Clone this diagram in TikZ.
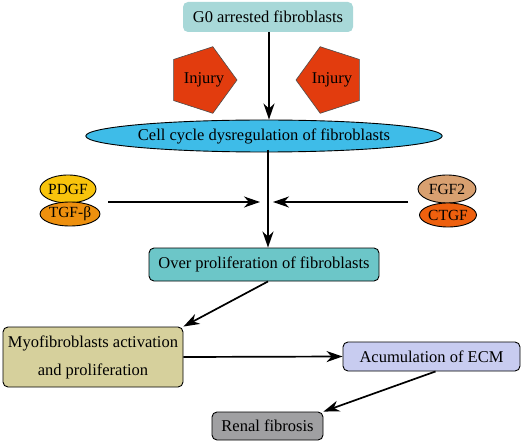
\documentclass[tikz,border=0pt]{standalone}
\usepackage{fontspec}
\setmainfont{Liberation Serif}
\usetikzlibrary{shapes.geometric,arrows.meta}
\definecolor{gzero}{HTML}{A8D8D8}
\definecolor{injury}{HTML}{E23C0E}
\definecolor{cellc}{HTML}{3EBCE8}
\definecolor{pdgfc}{HTML}{F8C40C}
\definecolor{tgfc}{HTML}{EE900E}
\definecolor{fgfc}{HTML}{D8A070}
\definecolor{ctgfc}{HTML}{EE600E}
\definecolor{overc}{HTML}{6CC6C8}
\definecolor{myoc}{HTML}{D6D09C}
\definecolor{acumc}{HTML}{C8CCF0}
\definecolor{renalc}{HTML}{A0A0A2}
\tikzset{
  txt/.style={font=\fontsize{16.5}{19}\selectfont, text=black},
  rbox/.style={txt, draw=black, line width=0.9pt, rounded corners=5pt, inner sep=0pt},
  pentline/.style={draw=black!70, line width=0.6pt, fill=injury},
  ell/.style={ellipse, draw=black, line width=0.9pt, inner sep=0pt, font=\fontsize{15.5}{18}\selectfont},
  arr/.style={line width=1.7pt, -{Stealth[length=16pt,width=11pt,inset=5pt]}},
}
\begin{document}
\begin{tikzpicture}[x=1pt,y=-1pt]
\useasboundingbox (0,0) rectangle (526,443);
\node[txt, fill=gzero, rounded corners=5pt, minimum width=170pt, minimum height=30pt] (g0) at (268,17) {G0 arrested fibroblasts};
\path[pentline] (202,80) +(0:35) -- +(72:35) -- +(144:35) -- +(216:35) -- +(288:35) -- cycle;
\path[pentline] (331,80) +(180:35) -- +(252:35) -- +(324:35) -- +(36:35) -- +(108:35) -- cycle;
\node[txt] (injl) at (204,80) {Injury};
\node[txt] (injr) at (332,80) {Injury};
\node[ell, txt, fill=cellc, minimum width=282pt, minimum height=32pt] (cell) at (264,136) {Cell cycle dysregulation of fibroblasts};
\node[ell, fill=pdgfc, minimum width=54pt, minimum height=28pt] (pdgf) at (68,189) {PDGF};
\node[ell, fill=tgfc, minimum width=54pt, minimum height=24pt] (tgf) at (70,214) {TGF-β};
\node[ell, fill=fgfc, minimum width=58pt, minimum height=28pt] (fgf) at (447,189) {FGF2};
\node[ell, fill=ctgfc, minimum width=57pt, minimum height=24pt] (ctgf) at (448,215) {CTGF};
\node[rbox, fill=overc, minimum width=230pt, minimum height=33pt] (over) at (264,264.5) {Over proliferation of fibroblasts};
\node[rbox, fill=myoc, minimum width=180pt, minimum height=60pt, align=center, font=\fontsize{16.5}{28}\selectfont] (myo) at (93,357) {Myofibroblasts activation\\and proliferation};
\node[rbox, fill=acumc, minimum width=177pt, minimum height=29pt] (acum) at (431.5,356.5) {Acumulation of ECM};
\node[rbox, fill=renalc, minimum width=111pt, minimum height=28pt] (renal) at (267.5,426) {Renal fibrosis};
\coordinate (ls) at (108,202);
\coordinate (le) at (260,202);
\coordinate (rs) at (408,202);
\coordinate (re) at (273,202);
\coordinate (top) at (269,32);
\coordinate (mid) at (268,150);
\draw[arr] (top) -- (top |- cell.north);
\draw[arr] (mid) -- (mid |- over.north);
\draw[arr] (ls) -- (le);
\draw[arr] (rs) -- (re);
\draw[arr] ([xshift=4pt]over.south) -- (myo.north east);
\draw[arr] (myo.east) -- (acum.west);
\draw[arr] ([xshift=4pt]acum.south) -- (renal.north east);
\end{tikzpicture}
\end{document}
